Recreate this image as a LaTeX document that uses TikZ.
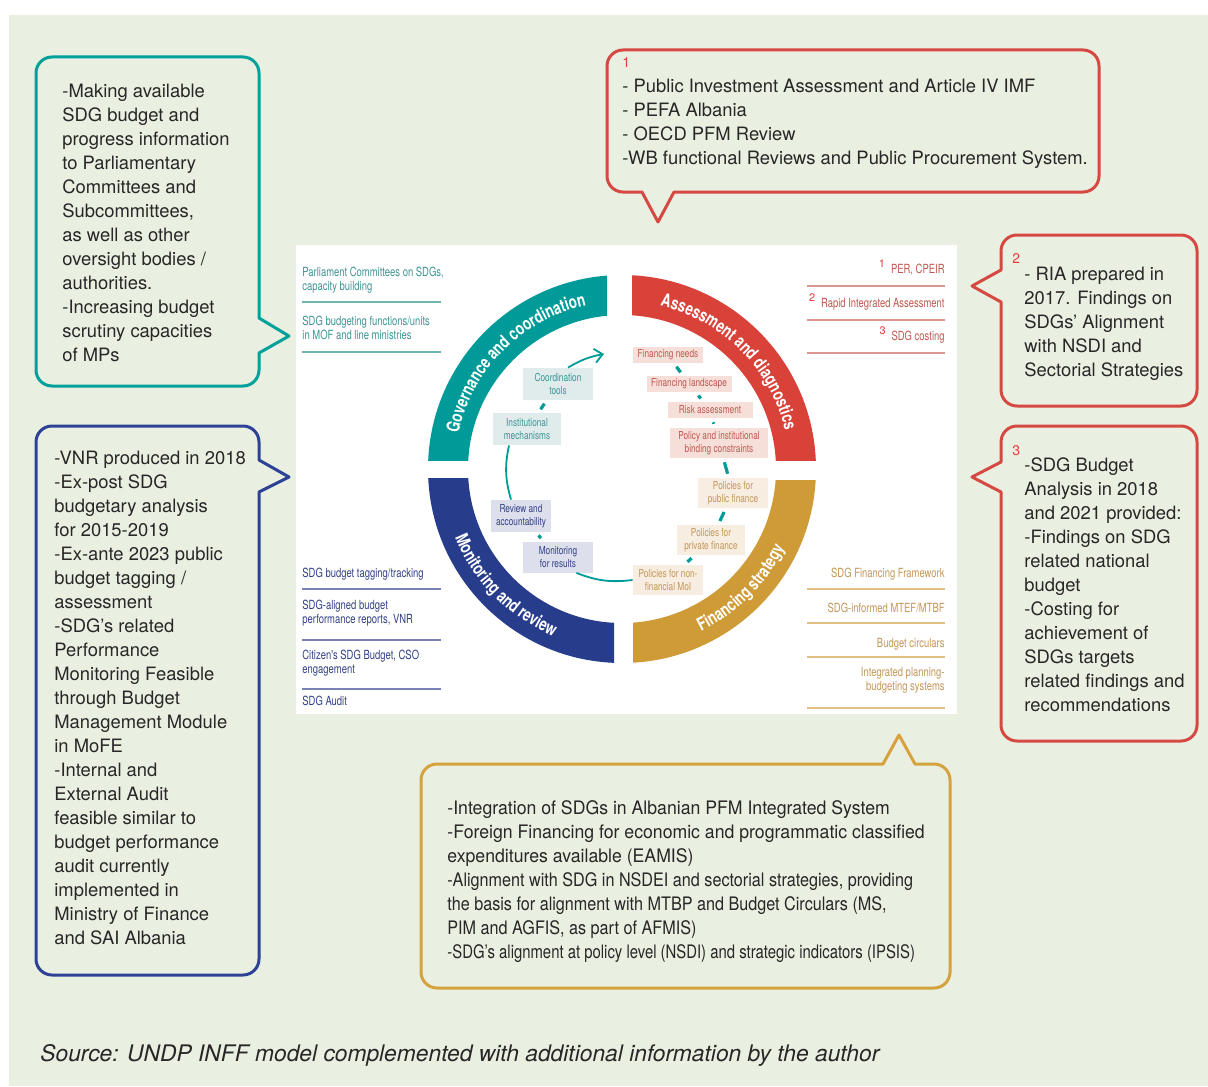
\documentclass[tikz,border=0pt]{standalone}
\usepackage{fontspec}
\setmainfont{TeX Gyre Heros}
\newfontfamily\narrowfont[FakeStretch=0.75]{TeX Gyre Heros}
\newfontfamily\tightfont[FakeStretch=0.95]{TeX Gyre Heros}
\newfontfamily\tighterfont[FakeStretch=0.87]{TeX Gyre Heros}
\newfontfamily\tightestfont[FakeStretch=0.8]{TeX Gyre Heros}
\usetikzlibrary{arrows.meta, calc, decorations.text}
\definecolor{bggreen}{RGB}{233,240,225}
\definecolor{bodytext}{RGB}{40,38,38}
\definecolor{numred}{RGB}{226,62,58}
\definecolor{calloutteal}{RGB}{0,160,155}
\definecolor{calloutblue}{RGB}{45,65,150}
\definecolor{calloutred}{RGB}{214,72,66}
\definecolor{calloutorange}{RGB}{214,162,62}
\definecolor{govteal}{RGB}{0,155,152}
\definecolor{assred}{RGB}{216,66,56}
\definecolor{monblue}{RGB}{40,60,140}
\definecolor{finorange}{RGB}{207,155,55}
\definecolor{tealtext}{RGB}{60,148,148}
\definecolor{bluetext}{RGB}{50,64,135}
\definecolor{redtext}{RGB}{190,88,80}
\definecolor{orangetext}{RGB}{196,150,88}
\definecolor{tealrule}{RGB}{110,180,178}
\definecolor{bluerule}{RGB}{120,130,180}
\definecolor{redrule}{RGB}{218,150,145}
\definecolor{orangerule}{RGB}{226,192,132}
\definecolor{tealbox}{RGB}{224,235,235}
\definecolor{bluebox}{RGB}{221,223,236}
\definecolor{redbox}{RGB}{247,223,217}
\definecolor{orangebox}{RGB}{247,237,224}
\newcommand\ringfont{\narrowfont\bfseries\fontsize{9}{11}\selectfont}
\newcommand\refmark[1]{\textcolor{numred}{\normalfont\fontsize{5.5}{6}\selectfont\raisebox{3pt}{#1}}\hspace{3pt}}

\begin{document}
\begin{tikzpicture}[x=0.5pt, y=-0.5pt,
  callout/.style={line width=1.5pt, line join=round},
  calltext/.style={anchor=base west, align=left, inner sep=0pt, text=bodytext, font=\fontsize{9.2}{12}\selectfont},
  numtag/.style={anchor=base west, inner sep=0pt, text=numred, font=\fontsize{7}{8}\selectfont},
  sidelabel/.style={inner sep=0pt, font=\narrowfont\fontsize{6.3}{7}\selectfont},
  siderule/.style={line width=0.9pt},
  cyclebox/.style={inner sep=1pt, align=center, font=\narrowfont\fontsize{5.5}{6.5}\selectfont},
  cycleline/.style={govteal, line width=0.9pt},
  dashlink/.style={govteal, line width=1.6pt, shorten >=2pt, shorten <=2pt},
  ringtext/.style={decorate, decoration={text along path, text align=center, text color=white, text={|\ringfont|#1}}}]

\useasboundingbox (0,0) rectangle (1208,1086);
\fill[white] (0,0) rectangle (1208,1086);
\fill[bggreen] (9,15) rectangle (1208,1086);

\draw[callout, calloutteal] (52,57) -- (243,57) arc[start angle=90, end angle=0, radius=8pt] -- (259,318) -- (289,336) -- (259,353) -- (259,370) arc[start angle=0, end angle=-90, radius=8pt] -- (52,386) arc[start angle=270, end angle=180, radius=8pt] -- (36,73) arc[start angle=180, end angle=90, radius=8pt] -- cycle;
\draw[callout, calloutblue] (52,426) -- (243,426) arc[start angle=90, end angle=0, radius=8pt] -- (259,460) -- (289,477) -- (259,492) -- (259,959) arc[start angle=0, end angle=-90, radius=8pt] -- (52,975) arc[start angle=270, end angle=180, radius=8pt] -- (36,442) arc[start angle=180, end angle=90, radius=8pt] -- cycle;
\draw[callout, calloutred] (623,50) -- (1083,50) arc[start angle=90, end angle=0, radius=8pt] -- (1099,176) arc[start angle=0, end angle=-90, radius=8pt] -- (674,192) -- (658,222) -- (642,192) -- (623,192) arc[start angle=270, end angle=180, radius=8pt] -- (607,66) arc[start angle=180, end angle=90, radius=8pt] -- cycle;
\draw[callout, calloutred] (1017,235) -- (1181,235) arc[start angle=90, end angle=0, radius=8pt] -- (1197,390) arc[start angle=0, end angle=-90, radius=8pt] -- (1017,406) arc[start angle=270, end angle=180, radius=8pt] -- (1001,302) -- (972,286) -- (1001,270) -- (1001,251) arc[start angle=180, end angle=90, radius=8pt] -- cycle;
\draw[callout, calloutred] (1017,426) -- (1181,426) arc[start angle=90, end angle=0, radius=8pt] -- (1197,725) arc[start angle=0, end angle=-90, radius=8pt] -- (1017,741) arc[start angle=270, end angle=180, radius=8pt] -- (1001,492) -- (972,477) -- (1001,462) -- (1001,442) arc[start angle=180, end angle=90, radius=8pt] -- cycle;
\draw[callout, calloutorange] (437,764) -- (883,764) -- (899,735) -- (915,764) -- (934,764) arc[start angle=90, end angle=0, radius=8pt] -- (950,972) arc[start angle=0, end angle=-90, radius=8pt] -- (437,988) arc[start angle=270, end angle=180, radius=8pt] -- (421,780) arc[start angle=180, end angle=90, radius=8pt] -- cycle;

\node[calltext] (parliament) at (62,361) {-Making available\\SDG budget and\\progress information\\to Parliamentary\\Committees and\\Subcommittees,\\as well as other\\oversight bodies /\\authorities.\\-Increasing budget\\scrutiny capacities\\of MPs};
\node[calltext] (vnr) at (54,944) {-VNR produced in 2018\\-Ex-post SDG\\budgetary analysis\\for 2015-2019\\-Ex-ante 2023 public\\budget tagging /\\assessment\\-SDG’s related\\Performance\\Monitoring Feasible\\through Budget\\Management Module\\in MoFE\\-Internal and\\External Audit\\feasible similar to\\budget performance\\audit currently\\implemented in\\Ministry of Finance\\and SAI Albania};
\node[numtag] (tagone) at (622,68) {1};
\node[calltext] (reviews) at (622,164) {- Public Investment Assessment and Article IV IMF\\- PEFA Albania\\- OECD PFM Review\\-WB functional Reviews and Public Procurement System.};
\node[numtag] (tagtwo) at (1012,263) {2};
\node[calltext] (ria) at (1024,376) {- RIA prepared in\\2017. Findings on\\SDGs’ Alignment\\with NSDI and\\Sectorial Strategies};
\node[numtag] (tagthree) at (1012,455) {3};
\node[calltext] (analysis) at (1024,711) {-SDG Budget\\Analysis in 2018\\and 2021 provided:\\-Findings on SDG\\related national\\budget\\-Costing for\\achievement of\\SDGs targets\\related findings and\\recommendations};
\node[calltext, font=\tightfont\fontsize{9.3}{12}\selectfont] (integration) at (447,958) {-Integration of SDGs in Albanian PFM Integrated System\\-Foreign Financing for economic and programmatic classified\\expenditures available (EAMIS)\\{\tighterfont-Alignment with SDG in NSDEI and sectorial strategies, providing}\\{\tighterfont the basis for alignment with MTBP and Budget Circulars (MS,}\\{\tighterfont PIM and AGFIS, as part of AFMIS)}\\{\tightestfont-SDG’s alignment at policy level (NSDI) and strategic indicators (IPSIS)}};
\node[anchor=base west, inner sep=0pt, text=bodytext, font=\itshape\fontsize{11.4}{13}\selectfont] (source) at (40,1061) {Source: UNDP INFF model complemented with additional information by the author};

\fill[white] (296,245) rectangle (957,714);
\coordinate (ring) at (622,469);
\foreach \col/\xa/\ya/\xb/\yb in {govteal/296/245/607/460, assred/632/245/957/460, monblue/296/478/614/714, finorange/633/480/957/714} {
  \begin{scope}
    \clip (\xa,\ya) rectangle (\xb,\yb);
    \fill[\col, even odd rule] (ring) circle[radius=97pt] (ring) circle[radius=77pt];
  \end{scope}
}
\path[ringtext={Governance and coordination}] ($(ring)+(178:83.7pt)$) arc[start angle=178, end angle=92, radius=83.7pt];
\path[ringtext={Assessment and diagnostics}] ($(ring)+(88:83.7pt)$) arc[start angle=88, end angle=2, radius=83.7pt];
\path[ringtext={Monitoring and review}] ($(ring)+(182:90.3pt)$) arc[start angle=182, end angle=268, radius=90.3pt];
\path[ringtext={Financing strategy}] ($(ring)+(272:90.3pt)$) arc[start angle=272, end angle=358, radius=90.3pt];

\node[sidelabel, text=tealtext, anchor=base west, align=left] (parlcom) at (302,290) {Parliament Committees on SDGs,\\capacity building};
\node[sidelabel, text=tealtext, anchor=base west, align=left] (units) at (302,339) {SDG budgeting functions/units\\in MOF and line ministries};
\draw[siderule, tealrule] (302,302) -- (441,302);
\draw[siderule, tealrule] (302,352) -- (441,352);
\node[sidelabel, text=bluetext, anchor=base west, align=left] (tagging) at (302,577) {SDG budget tagging/tracking};
\node[sidelabel, text=bluetext, anchor=base west, align=left] (aligned) at (302,623) {SDG-aligned budget\\performance reports, VNR};
\node[sidelabel, text=bluetext, anchor=base west, align=left] (citizen) at (302,673) {Citizen's SDG Budget, CSO\\engagement};
\node[sidelabel, text=bluetext, anchor=base west, align=left] (audit) at (302,705) {SDG Audit};
\draw[siderule, bluerule] (302,589) -- (441,589);
\draw[siderule, bluerule] (302,640) -- (441,640);
\draw[siderule, bluerule] (302,689) -- (441,689);
\node[sidelabel, text=redtext, anchor=base east] (per) at (945,273) {\refmark{1}PER, CPEIR};
\node[sidelabel, text=redtext, anchor=base east] (rapid) at (945,307) {\refmark{2}Rapid Integrated Assessment};
\node[sidelabel, text=redtext, anchor=base east] (costing) at (945,340) {\refmark{3}SDG costing};
\draw[siderule, redrule] (807,286) -- (945,286);
\draw[siderule, redrule] (807,320) -- (945,320);
\draw[siderule, redrule] (807,353) -- (945,353);
\node[sidelabel, text=orangetext, anchor=base east] (sff) at (945,577) {SDG Financing Framework};
\node[sidelabel, text=orangetext, anchor=base east] (mtef) at (945,612) {SDG-informed MTEF/MTBF};
\node[sidelabel, text=orangetext, anchor=base east] (circulars) at (945,647) {Budget circulars};
\node[sidelabel, text=orangetext, anchor=base east, align=right] (ipb) at (945,690) {Integrated planning-\\budgeting systems};
\draw[siderule, orangerule] (807,589) -- (945,589);
\draw[siderule, orangerule] (807,623) -- (945,623);
\draw[siderule, orangerule] (807,657) -- (945,657);
\draw[siderule, orangerule] (807,708) -- (945,708);

\node[cyclebox, fill=tealbox, text=tealtext, minimum width=35pt, minimum height=16pt] (coord) at (558,384) {Coordination\\tools};
\node[cyclebox, fill=tealbox, text=tealtext, minimum width=34pt, minimum height=16pt] (inst) at (527,429) {Institutional\\mechanisms};
\node[cyclebox, fill=bluebox, text=bluetext, minimum width=30pt, minimum height=16pt] (review) at (521,516) {Review and\\accountability};
\node[cyclebox, fill=bluebox, text=bluetext, minimum width=35pt, minimum height=15.5pt] (monit) at (558,557) {Monitoring\\for results};
\node[cyclebox, fill=redbox, text=redtext, minimum width=35pt, minimum height=8pt] (needs) at (668,355) {Financing needs};
\node[cyclebox, fill=redbox, text=redtext, minimum width=42.5pt, minimum height=8pt] (landsc) at (689,384) {Financing landscape};
\node[cyclebox, fill=redbox, text=redtext, minimum width=42.5pt, minimum height=8pt] (risk) at (710,410) {Risk assessment};
\node[cyclebox, fill=redbox, text=redtext, minimum width=49pt, minimum height=15pt] (policy) at (719,443) {Policy and institutional\\binding constraints};
\node[cyclebox, fill=orangebox, text=orangetext, minimum width=35pt, minimum height=15pt] (pubfin) at (733,493) {Policies for\\public finance};
\node[cyclebox, fill=orangebox, text=orangetext, minimum width=34pt, minimum height=15pt] (privfin) at (711,540) {Policies for\\private finance};
\node[cyclebox, fill=orangebox, text=orangetext, minimum width=35pt, minimum height=15pt] (nonfin) at (668,580) {Policies for non-\\financial MoI};
\coordinate (tip) at (604,354);

\draw[cycleline, -{Straight Barb[length=4pt, width=7pt]}] ([xshift=5pt]coord.north) to[bend left=10] (tip);
\draw[cycleline] ([xshift=-9pt]inst.south) to[bend right=14] ([xshift=-5pt]review.north);
\draw[cycleline] ([xshift=-8.5pt]monit.south east) to[bend right=14] (nonfin.west);
\draw[dashlink] (coord) -- (inst);
\draw[dashlink] (review) -- (monit);
\draw[dashlink] (needs) -- (landsc);
\draw[dashlink] (landsc) -- (risk);
\draw[dashlink] (risk) -- (policy);
\draw[dashlink] (policy) -- (pubfin);
\draw[dashlink] (pubfin) -- (privfin);
\draw[dashlink] (privfin) -- (nonfin);
\end{tikzpicture}
\end{document}
